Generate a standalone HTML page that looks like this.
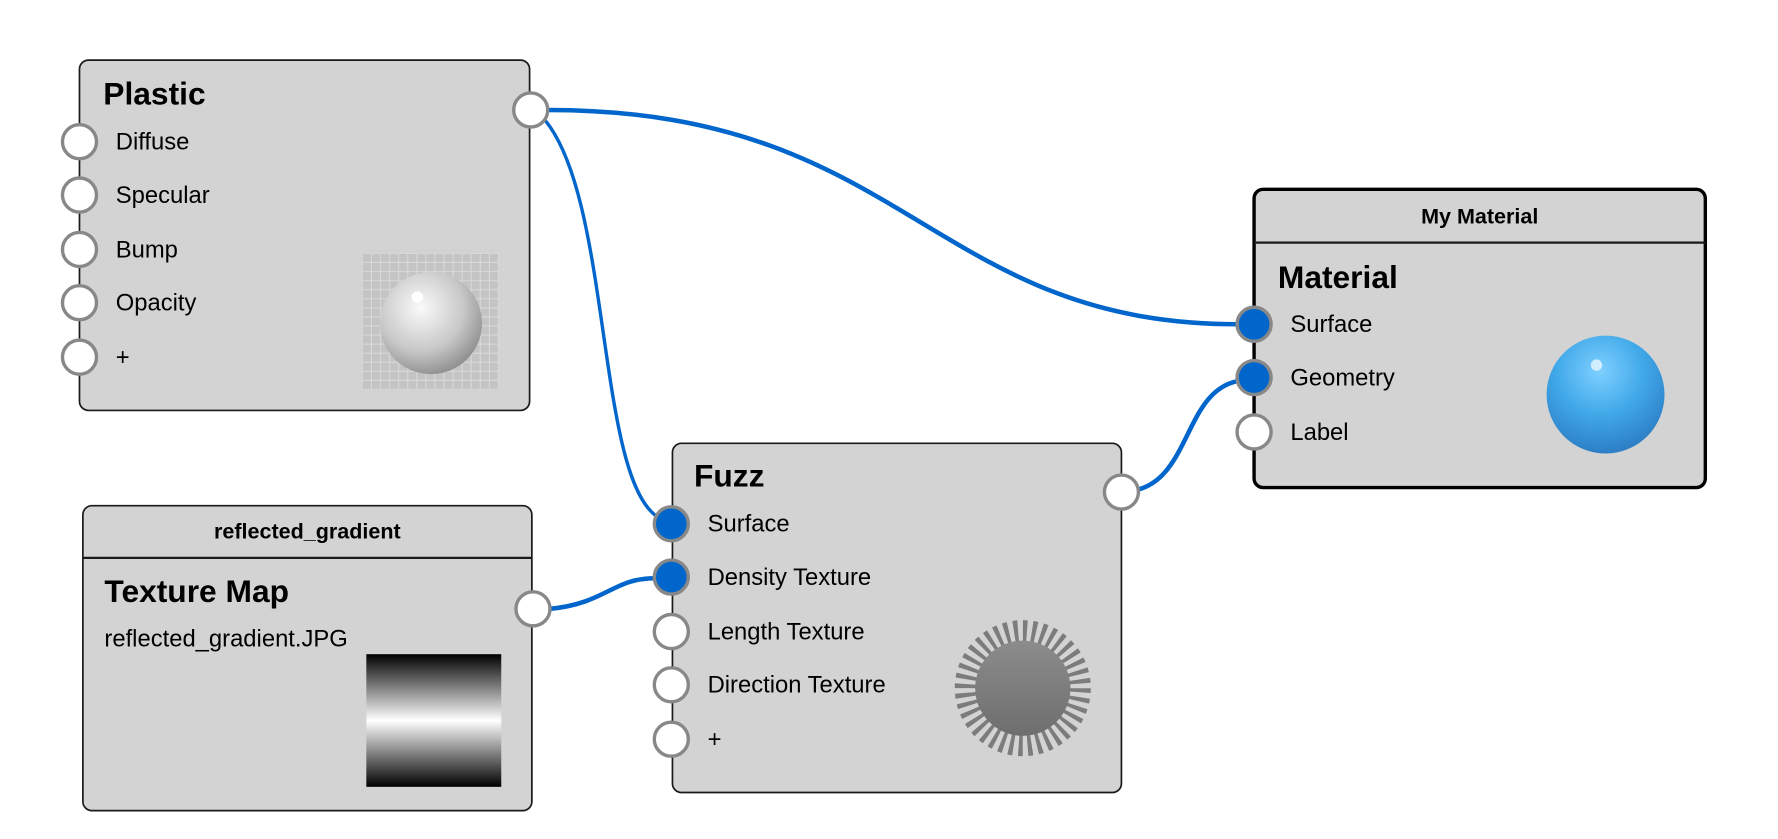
<!DOCTYPE html>
<html><head><meta charset="utf-8"><style>
html,body{margin:0;padding:0;background:#fff;}
svg{display:block;}
text{font-family:"Liberation Sans","DejaVu Sans",sans-serif;fill:#000;}
.t{font-size:28px;font-weight:bold;}
.l{font-size:21px;}
.h{font-size:19px;font-weight:bold;}
.node{fill:#d3d3d3;stroke:#1a1a1a;stroke-width:1.5;}
.p{fill:#fff;stroke:#888;stroke-width:3;}
.pf{fill:#0066cc;stroke:#888;stroke-width:3;}
.w{fill:none;stroke:#0066cc;stroke-linecap:round;}
</style></head><body>
<svg width="1778" height="839" viewBox="0 0 1568 740" xmlns="http://www.w3.org/2000/svg">
<defs>
<linearGradient id="grad" x1="0" y1="0" x2="0" y2="1">
<stop offset="0" stop-color="#000"/><stop offset="0.5" stop-color="#fff"/><stop offset="1" stop-color="#000"/>
</linearGradient>
<radialGradient id="ball" cx="0.4" cy="0.35" r="0.7">
<stop offset="0" stop-color="#fafafa"/><stop offset="0.6" stop-color="#c8c8c8"/><stop offset="1" stop-color="#8a8a8a"/>
</radialGradient>
<radialGradient id="blue" cx="0.45" cy="0.3" r="0.75">
<stop offset="0" stop-color="#7fd0ff"/><stop offset="0.5" stop-color="#40a8e8"/><stop offset="1" stop-color="#2a78c0"/>
</radialGradient>
<linearGradient id="gr" x1="0" y1="0" x2="0" y2="1">
<stop offset="0" stop-color="#8c8c8c"/><stop offset="1" stop-color="#6e6e6e"/>
</linearGradient>
<pattern id="chk" width="8" height="8" patternUnits="userSpaceOnUse">
<rect width="8" height="8" fill="#d8d8d8"/><rect width="7" height="7" fill="#c4c4c4"/>
</pattern>
</defs>

<!-- wires -->
<path class="w" stroke-width="4" d="M483,97 C800,97 820,286 1092,286"/>
<path class="w" stroke-width="3" d="M478,103 C540,170 525,420 580,456"/>
<path class="w" stroke-width="4" d="M1003,432 C1050,420 1045,345 1092,336"/>
<path class="w" stroke-width="4" d="M485,537 C535,532 540,510 578,510"/>

<!-- Plastic -->
<rect class="node" x="70" y="53" width="397" height="309" rx="8"/>
<text class="t" x="91" y="92">Plastic</text>
<text class="l" x="102" y="132">Diffuse</text>
<text class="l" x="102" y="179">Specular</text>
<text class="l" x="102" y="227">Bump</text>
<text class="l" x="102" y="274">Opacity</text>
<text class="l" x="102" y="322">+</text>
<rect x="320" y="223" width="120" height="120" fill="url(#chk)"/>
<circle cx="380" cy="285" r="45" fill="url(#ball)"/>
<circle cx="368" cy="262" r="5" fill="#fff"/>
<circle class="p" cx="70" cy="125" r="15"/>
<circle class="p" cx="70" cy="172" r="15"/>
<circle class="p" cx="70" cy="220" r="15"/>
<circle class="p" cx="70" cy="267" r="15"/>
<circle class="p" cx="70" cy="315" r="15"/>
<circle class="p" cx="468" cy="97" r="15"/>

<!-- reflected_gradient -->
<rect class="node" x="73" y="446" width="396" height="269" rx="8"/>
<line x1="73" y1="492" x2="469" y2="492" stroke="#1a1a1a" stroke-width="2"/>
<text class="h" x="271" y="475" text-anchor="middle">reflected_gradient</text>
<text class="t" x="92" y="531">Texture Map</text>
<text class="l" x="92" y="570">reflected_gradient.JPG</text>
<rect x="323" y="577" width="119" height="117" fill="url(#grad)"/>
<circle class="p" cx="470" cy="537" r="15"/>

<!-- Fuzz -->
<rect class="node" x="593" y="391" width="396" height="308" rx="8"/>
<text class="t" x="612" y="429">Fuzz</text>
<text class="l" x="624" y="469">Surface</text>
<text class="l" x="624" y="516">Density Texture</text>
<text class="l" x="624" y="564">Length Texture</text>
<text class="l" x="624" y="611">Direction Texture</text>
<text class="l" x="624" y="659">+</text>
<circle cx="902" cy="607" r="50" fill="none" stroke="#7c7c7c" stroke-width="20" stroke-dasharray="3.6 4.25"/>
<circle cx="902" cy="607" r="42" fill="url(#gr)"/>
<circle class="pf" cx="592" cy="462" r="15"/>
<circle class="pf" cx="592" cy="509" r="15"/>
<circle class="p" cx="592" cy="557" r="15"/>
<circle class="p" cx="592" cy="604" r="15"/>
<circle class="p" cx="592" cy="652" r="15"/>
<circle class="p" cx="989" cy="434" r="15"/>

<!-- My Material -->
<rect x="1106" y="167" width="398" height="263" rx="8" style="fill:#d3d3d3;stroke:#000;stroke-width:3"/>
<line x1="1106" y1="214" x2="1504" y2="214" stroke="#1a1a1a" stroke-width="2"/>
<text class="h" x="1305" y="197" text-anchor="middle">My Material</text>
<text class="t" x="1127" y="254">Material</text>
<text class="l" x="1138" y="293">Surface</text>
<text class="l" x="1138" y="340">Geometry</text>
<text class="l" x="1138" y="388">Label</text>
<circle cx="1416" cy="348" r="52" fill="url(#blue)"/>
<circle cx="1408" cy="322" r="5" fill="#e8f6ff" opacity="0.8"/>
<circle class="pf" cx="1106" cy="286" r="15"/>
<circle class="pf" cx="1106" cy="333" r="15"/>
<circle class="p" cx="1106" cy="381" r="15"/>
</svg>
</body></html>
